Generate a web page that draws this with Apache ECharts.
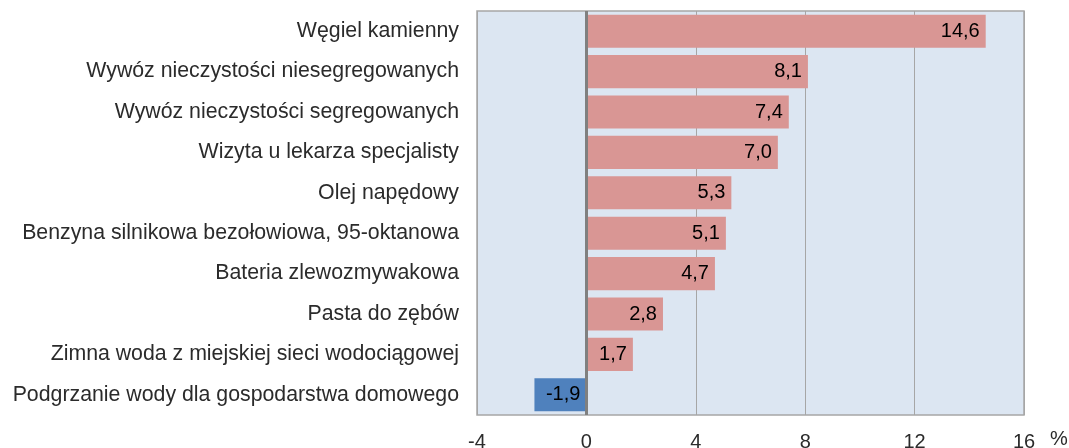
<!DOCTYPE html>
<html><head><meta charset="utf-8">
<script src="https://cdn.jsdelivr.net/npm/echarts@6/dist/echarts.min.js"></script>
<style>html,body{margin:0;padding:0;background:#fff}#c{width:1069px;height:448px}</style>
</head><body><div id="c"></div>
<script>
const categories = [
  "Węgiel kamienny",
  "Wywóz nieczystości niesegregowanych",
  "Wywóz nieczystości segregowanych",
  "Wizyta u lekarza specjalisty",
  "Olej napędowy",
  "Benzyna silnikowa bezołowiowa, 95-oktanowa",
  "Bateria zlewozmywakowa",
  "Pasta do zębów",
  "Zimna woda z miejskiej sieci wodociągowej",
  "Podgrzanie wody dla gospodarstwa domowego"
];
const values = [14.6, 8.1, 7.4, 7.0, 5.3, 5.1, 4.7, 2.8, 1.7, -1.9];
const xTicks = { min: -4, max: 16, interval: 4 };
const unit = "%";

const chart = echarts.init(document.getElementById('c'), null, {renderer:'canvas'});
const fmt = v => v.toFixed(1).replace('.', ',');
chart.setOption({
  animation: false,
  textStyle: { fontFamily: 'Liberation Sans, Arial, sans-serif' },
  grid: { left: 477, right: 45, top: 11, bottom: 33, show: true, outerBoundsMode: 'none',
          backgroundColor: '#dce6f2', borderColor: '#a6a6a6', borderWidth: 1.5 },
  xAxis: {
    type: 'value', min: xTicks.min, max: xTicks.max, interval: xTicks.interval,
    axisLine: { show: false }, axisTick: { show: false },
    axisLabel: { color: '#2b2b2b', fontSize: 20, margin: 17, formatter: v => String(v) },
    splitLine: { show: true, lineStyle: { color: '#a6a6a6', width: 1 } },
    name: unit, nameLocation: 'end', nameGap: 26,
    nameTextStyle: { color: '#2b2b2b', fontSize: 20, verticalAlign: 'top', padding: [14, 0, 0, 0] }
  },
  yAxis: {
    type: 'category', data: categories, inverse: true,
    axisLine: { show: false }, axisTick: { show: false },
    axisLabel: { color: '#2b2b2b', fontSize: 21.3, margin: 18 },
    splitLine: { show: false }
  },
  series: [{
    type: 'bar', barWidth: '82%',
    data: values.map(v => ({ value: v, itemStyle: { color: v < 0 ? '#4f81bd' : '#d99694' } })),
    label: { show: true, position: 'insideRight', color: '#000', fontSize: 20,
             distance: 6, formatter: p => fmt(p.value) },
    markLine: { silent: true, symbol: 'none', label: { show: false },
      lineStyle: { color: '#808080', width: 3, type: 'solid' },
      data: [{ xAxis: 0 }] }
  }]
});
</script></body></html>
